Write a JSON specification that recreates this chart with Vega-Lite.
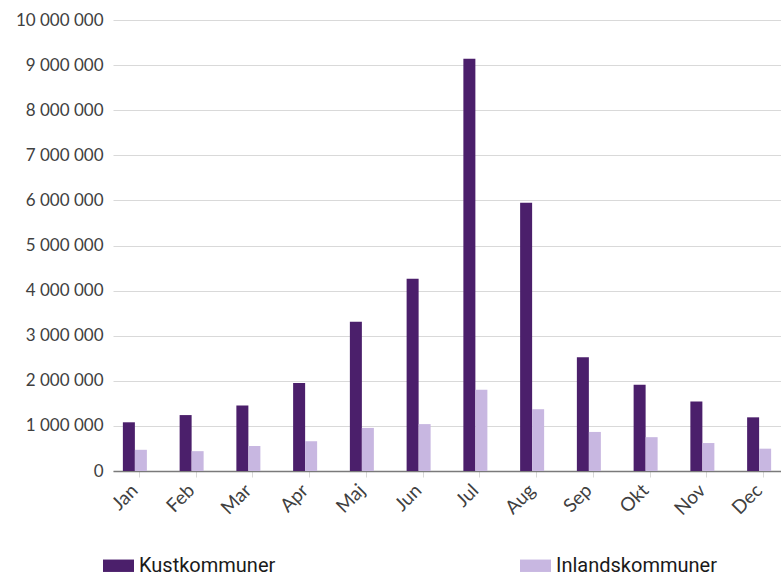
{
  "$schema": "https://vega.github.io/schema/vega-lite/v6.json",
  "width": 668,
  "height": 451,
  "autosize": {"type": "none"},
  "padding": {"left": 113, "top": 20, "right": 0, "bottom": 105},
  "background": "white",
  "config": {
    "view": {"stroke": null},
    "locale": {"number": {"decimal": ",", "thousands": " ", "grouping": [3], "currency": ["", " kr"]}}
  },
  "data": {
    "values": [
      {"month": "Jan", "series": "Kustkommuner", "value": 1080000},
      {"month": "Feb", "series": "Kustkommuner", "value": 1240000},
      {"month": "Mar", "series": "Kustkommuner", "value": 1450000},
      {"month": "Apr", "series": "Kustkommuner", "value": 1950000},
      {"month": "Maj", "series": "Kustkommuner", "value": 3310000},
      {"month": "Jun", "series": "Kustkommuner", "value": 4260000},
      {"month": "Jul", "series": "Kustkommuner", "value": 9140000},
      {"month": "Aug", "series": "Kustkommuner", "value": 5950000},
      {"month": "Sep", "series": "Kustkommuner", "value": 2520000},
      {"month": "Okt", "series": "Kustkommuner", "value": 1910000},
      {"month": "Nov", "series": "Kustkommuner", "value": 1540000},
      {"month": "Dec", "series": "Kustkommuner", "value": 1190000},
      {"month": "Jan", "series": "Inlandskommuner", "value": 470000},
      {"month": "Feb", "series": "Inlandskommuner", "value": 440000},
      {"month": "Mar", "series": "Inlandskommuner", "value": 555000},
      {"month": "Apr", "series": "Inlandskommuner", "value": 660000},
      {"month": "Maj", "series": "Inlandskommuner", "value": 955000},
      {"month": "Jun", "series": "Inlandskommuner", "value": 1040000},
      {"month": "Jul", "series": "Inlandskommuner", "value": 1800000},
      {"month": "Aug", "series": "Inlandskommuner", "value": 1370000},
      {"month": "Sep", "series": "Inlandskommuner", "value": 866000},
      {"month": "Okt", "series": "Inlandskommuner", "value": 750000},
      {"month": "Nov", "series": "Inlandskommuner", "value": 620000},
      {"month": "Dec", "series": "Inlandskommuner", "value": 495000}
    ]
  },
  "mark": {"type": "bar"},
  "encoding": {
    "x": {
      "field": "month",
      "type": "nominal",
      "sort": ["Jan", "Feb", "Mar", "Apr", "Maj", "Jun", "Jul", "Aug", "Sep", "Okt", "Nov", "Dec"],
      "scale": {"paddingInner": 0.577, "paddingOuter": 0.174},
      "axis": {
        "title": null,
        "labelAngle": -45,
        "labelAlign": "right",
        "labelBaseline": "middle",
        "bandPosition": 0.69,
        "ticks": true,
        "tickColor": "#d9d9d9",
        "tickSize": 6,
        "domainColor": "#7a7a7a",
        "domainWidth": 1.5,
        "grid": false,
        "labelPadding": 10,
        "labelFont": "Lato",
        "labelFontSize": 19,
        "labelColor": "#404040"
      }
    },
    "xOffset": {"field": "series", "sort": ["Kustkommuner", "Inlandskommuner"]},
    "y": {
      "field": "value",
      "type": "quantitative",
      "scale": {"domain": [0, 10000000]},
      "axis": {
        "title": null,
        "values": [0, 1000000, 2000000, 3000000, 4000000, 5000000, 6000000, 7000000, 8000000, 9000000, 10000000],
        "format": ",d",
        "grid": true,
        "gridColor": "#d9d9d9",
        "gridWidth": 1,
        "domain": false,
        "ticks": false,
        "labelPadding": 10,
        "labelFont": "Lato",
        "labelFontSize": 17,
        "labelColor": "#404040"
      }
    },
    "color": {
      "field": "series",
      "type": "nominal",
      "sort": ["Kustkommuner", "Inlandskommuner"],
      "scale": {"domain": ["Kustkommuner", "Inlandskommuner"], "range": ["#4b1f6b", "#c8b7e1"]},
      "legend": {
        "title": null,
        "orient": "none",
        "legendX": -10,
        "legendY": 530,
        "direction": "horizontal",
        "columns": 2,
        "columnPadding": 244,
        "symbolType": "M-1,-0.4H1V0.4H-1Z",
        "symbolSize": 961,
        "symbolStrokeWidth": 0,
        "symbolOpacity": 1,
        "labelOffset": 5,
        "labelLimit": 400,
        "labelFont": "Roboto",
        "labelFontSize": 20,
        "labelColor": "#1a1a1a"
      }
    }
  }
}
